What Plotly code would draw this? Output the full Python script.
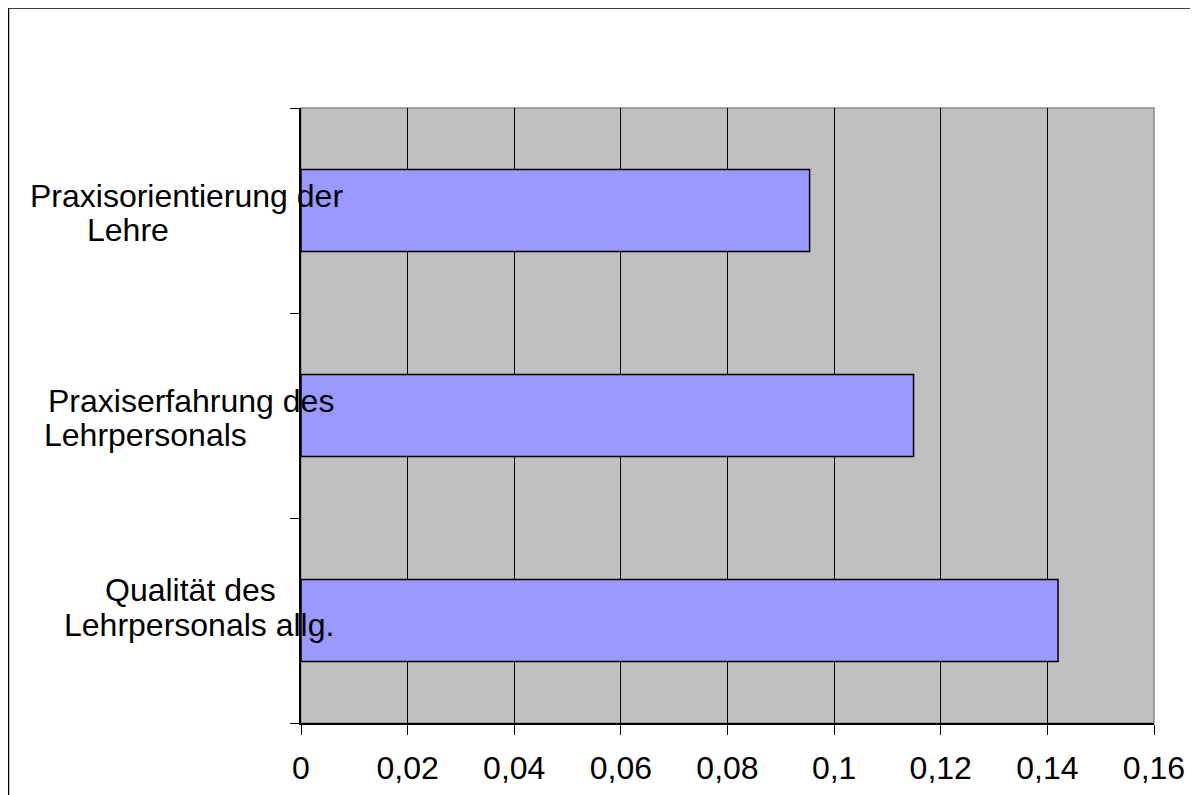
import plotly.graph_objects as go

# data (bottom to top as drawn by the category axis)
categories = ["Qualität des Lehrpersonals allg.",
              "Praxiserfahrung des Lehrpersonals",
              "Praxisorientierung der Lehre"]
values = [0.142, 0.1149, 0.0954]
label_line1 = ["Qualität des", "Praxiserfahrung des", "Praxisorientierung der"]
label_line2 = ["Lehrpersonals allg.", "Lehrpersonals", "Lehre"]
x_tickvals = [0, 0.02, 0.04, 0.06, 0.08, 0.1, 0.12, 0.14, 0.16]
x_ticktext = ["0", "0,02", "0,04", "0,06", "0,08", "0,1", "0,12", "0,14", "0,16"]

OFF = 8  # page body margin
W, H = 1198 - OFF, 795 - OFF
L, R, T, B = 301 - OFF, 1154 - OFF, 108 - OFF, 723 - OFF
FONT = "Liberation Sans, Arial, sans-serif"
FS = 32


def px(xs):
    return (xs - OFF - L) / (R - L)


def py(ys):
    return (B - (ys - OFF)) / (B - T)


fig = go.Figure()
fig.add_trace(go.Bar(
    y=categories, x=values, orientation="h", width=0.4,
    marker=dict(color="#9999FF", line=dict(color="black", width=1.5)),
    hoverinfo="skip",
))

# label placement (screen-pixel centres of each line, and baselines)
line1_cx = [190, 191, 186.5]
line2_cx = [198.7, 145.5, 127.5]
line1_base = [601.7, 412.7, 208.3]
line2_base = [636.7, 446.7, 241.7]
annotations = []
for i in range(len(categories)):
    for txt, cx, base in ((label_line1[i], line1_cx[i], line1_base[i]),
                          (label_line2[i], line2_cx[i], line2_base[i])):
        annotations.append(dict(
            text=txt, xref="paper", yref="paper",
            x=px(cx), y=py(base + 7), xanchor="center", yanchor="bottom",
            showarrow=False, font=dict(family=FONT, size=FS, color="black"),
            borderpad=0,
        ))

shapes = [
    # grey top/right frame of plot area
    dict(type="rect", xref="paper", yref="paper", x0=0, x1=1, y0=0, y1=1,
         line=dict(color="#8c8c8c", width=1.5), layer="below"),
    # outer chart border
    dict(type="rect", xref="paper", yref="paper",
         x0=px(8.5), x1=px(1196.5), y0=py(840), y1=py(8),
         line=dict(color="black", width=1.5), layer="above"),
]

fig.update_layout(
    width=W, height=H,
    margin=dict(l=L, r=W - R, t=T, b=H - B, pad=0, autoexpand=False),
    paper_bgcolor="white", plot_bgcolor="#C0C0C0",
    showlegend=False, bargap=0.6,
    font=dict(family=FONT, size=FS, color="black"),
    annotations=annotations, shapes=shapes,
    xaxis=dict(
        range=[0, 0.16], tickvals=x_tickvals, ticktext=x_ticktext,
        showgrid=True, gridcolor="black", gridwidth=1,
        showline=True, linecolor="black", linewidth=1.5,
        ticks="outside", ticklen=10, tickcolor="black", tickwidth=1,
        ticklabelstandoff=6, automargin=False,
        tickfont=dict(family=FONT, size=FS, color="black"),
        zeroline=False, fixedrange=True,
    ),
    yaxis=dict(
        type="category", categoryorder="array", categoryarray=categories,
        range=[-0.5, 2.5], showticklabels=False, automargin=False,
        ticks="outside", ticklen=9, tickcolor="black", tickwidth=1,
        tickson="boundaries",
        showline=True, linecolor="black", linewidth=1.5,
        showgrid=False, zeroline=False, fixedrange=True,
    ),
)

fig.write_html("out.html", config={"displayModeBar": False})
